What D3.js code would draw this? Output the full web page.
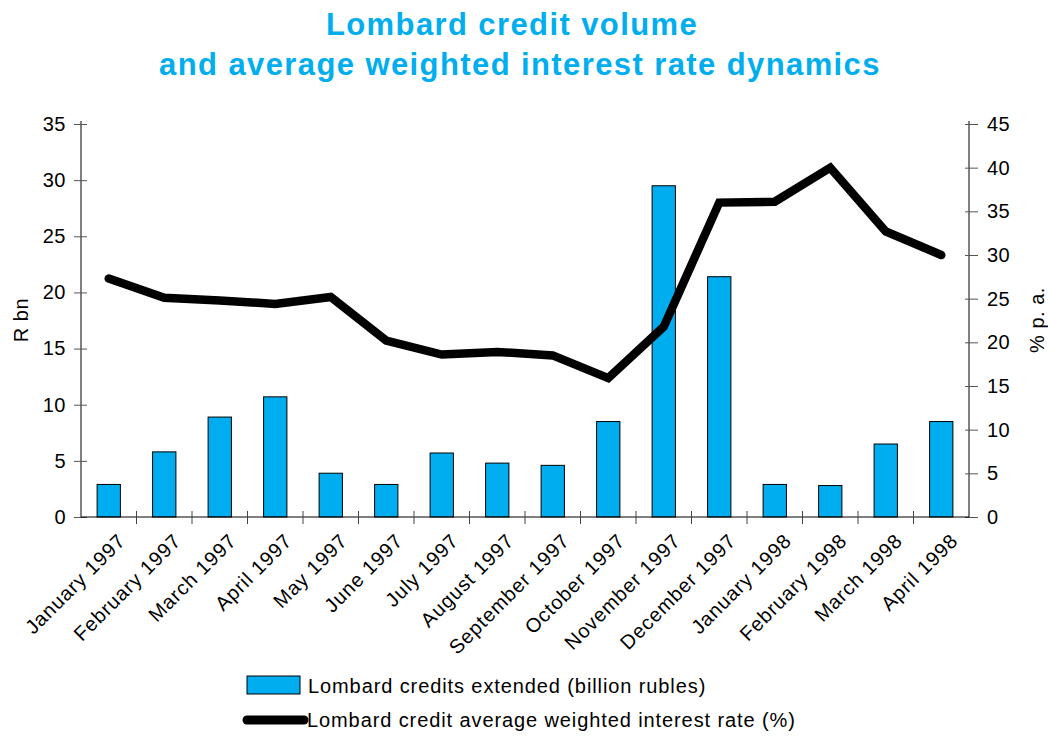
<!DOCTYPE html>
<html><head><meta charset="utf-8">
<script src="https://cdn.jsdelivr.net/npm/d3@7"></script>
<style>
body{margin:0;background:#fff;}
svg{display:block;font-family:"Liberation Sans",Arial,sans-serif;}
</style></head>
<body>
<svg id="chart" width="1048" height="736"></svg>
<script>
const categories = ["January 1997","February 1997","March 1997","April 1997","May 1997","June 1997","July 1997","August 1997","September 1997","October 1997","November 1997","December 1997","January 1998","February 1998","March 1998","April 1998"];
const creditVolume = [2.9,5.8,8.9,10.7,3.9,2.9,5.7,4.8,4.6,8.5,29.5,21.4,2.9,2.8,6.5,8.5];
const interestRate = [27.3,25.1,24.8,24.4,25.2,20.2,18.6,18.9,18.5,15.9,21.8,36.0,36.1,40.0,32.7,30.0];
const leftTicks = [0,5,10,15,20,25,30,35];
const rightTicks = [0,5,10,15,20,25,30,35,40,45];
const titleLines = ["Lombard credit volume","and average weighted interest rate dynamics"];
const legendLabels = ["Lombard credits extended (billion rubles)","Lombard credit average weighted interest rate (%)"];

const svg = d3.select("#chart");
const L = 81, R = 969, T = 124, B = 517;
const blue = "#00aeef";

const x = d3.scaleBand().domain(categories).range([L, R]).paddingInner(0).paddingOuter(0);
const yL = d3.scaleLinear().domain([0,35]).range([B, T]);
const yR = d3.scaleLinear().domain([0,45]).range([B, T]);

// title
svg.append("g").selectAll("text").data(titleLines).join("text")
  .attr("x", (d,i)=> i===0 ? 512 : 520).attr("y", (d,i)=>35 + i*40)
  .attr("text-anchor","middle").attr("font-weight","bold").attr("font-size",31)
  .attr("letter-spacing",1.4)
  .attr("fill", blue).text(d=>d);

// bars
const bw = x.bandwidth()*0.42;
svg.append("g").selectAll("rect").data(creditVolume).join("rect")
  .attr("x",(d,i)=>x(categories[i]) + x.bandwidth()/2 - bw/2)
  .attr("y", d=>yL(d)).attr("width", bw).attr("height", d=>B - yL(d))
  .attr("fill", blue).attr("stroke","#000").attr("stroke-width",1);

// axes
const axL = svg.append("g").attr("transform",`translate(${L},0)`)
  .call(d3.axisLeft(yL).tickValues(leftTicks).tickSize(7).tickPadding(8));
const axR = svg.append("g").attr("transform",`translate(${R},0)`)
  .call(d3.axisRight(yR).tickValues(rightTicks).tickSize(9).tickPadding(9));
[axL, axR].forEach(a=>{
  a.select(".domain").attr("d", `M0,${T-3}V${B}`).attr("stroke","#000");
  a.selectAll(".tick text").attr("font-size",20).attr("letter-spacing",0.5)
   .attr("fill","#000").attr("font-family","Liberation Sans, Arial, sans-serif");
});
axL.selectAll(".tick line").attr("x1",6).attr("stroke","#555");
axR.selectAll(".tick line").attr("x1",-4).attr("stroke","#555");

// x axis
const axX = svg.append("g").attr("transform",`translate(0,${B})`);
axX.append("line").attr("x1",L).attr("x2",R).attr("stroke","#000");
axX.selectAll("line.tk").data(categories.slice(1)).join("line").attr("class","tk")
  .attr("x1",d=>x(d)).attr("x2",d=>x(d)).attr("y1",-6).attr("y2",7).attr("stroke","#444");
axX.selectAll("text").data(categories).join("text")
  .attr("transform", d=>`translate(${x(d)+x.bandwidth()/2+18},${25}) rotate(-45)`)
  .attr("text-anchor","end").attr("font-size",20).attr("letter-spacing",0.9).text(d=>d);

// line
const line = d3.line().x((d,i)=>x(categories[i]) + x.bandwidth()/2).y(d=>yR(d));
svg.append("path").datum(interestRate).attr("d", line)
  .attr("fill","none").attr("stroke","#000").attr("stroke-width",8.5)
  .attr("stroke-linecap","round").attr("stroke-linejoin","miter");

// axis titles
svg.append("text").attr("transform","translate(28,320) rotate(-90)")
  .attr("text-anchor","middle").attr("font-size",20).attr("letter-spacing",0.5).text("R bn");
svg.append("text").attr("transform","translate(1044,320) rotate(-90)")
  .attr("text-anchor","middle").attr("font-size",20).attr("letter-spacing",0.5).text("% p. a.");

// legend
const lg = svg.append("g");
lg.append("rect").attr("x",247).attr("y",676).attr("width",53).attr("height",18)
  .attr("fill",blue).attr("stroke","#000").attr("stroke-width",1);
lg.append("line").attr("x1",247).attr("x2",304).attr("y1",720).attr("y2",720)
  .attr("stroke","#000").attr("stroke-width",9).attr("stroke-linecap","round");
lg.selectAll("text").data(legendLabels).join("text")
  .attr("x",(d,i)=> i===0?308:307).attr("y",(d,i)=>693+i*34)
  .attr("font-size",20).attr("letter-spacing",0.9).text(d=>d);
</script>
</body></html>
